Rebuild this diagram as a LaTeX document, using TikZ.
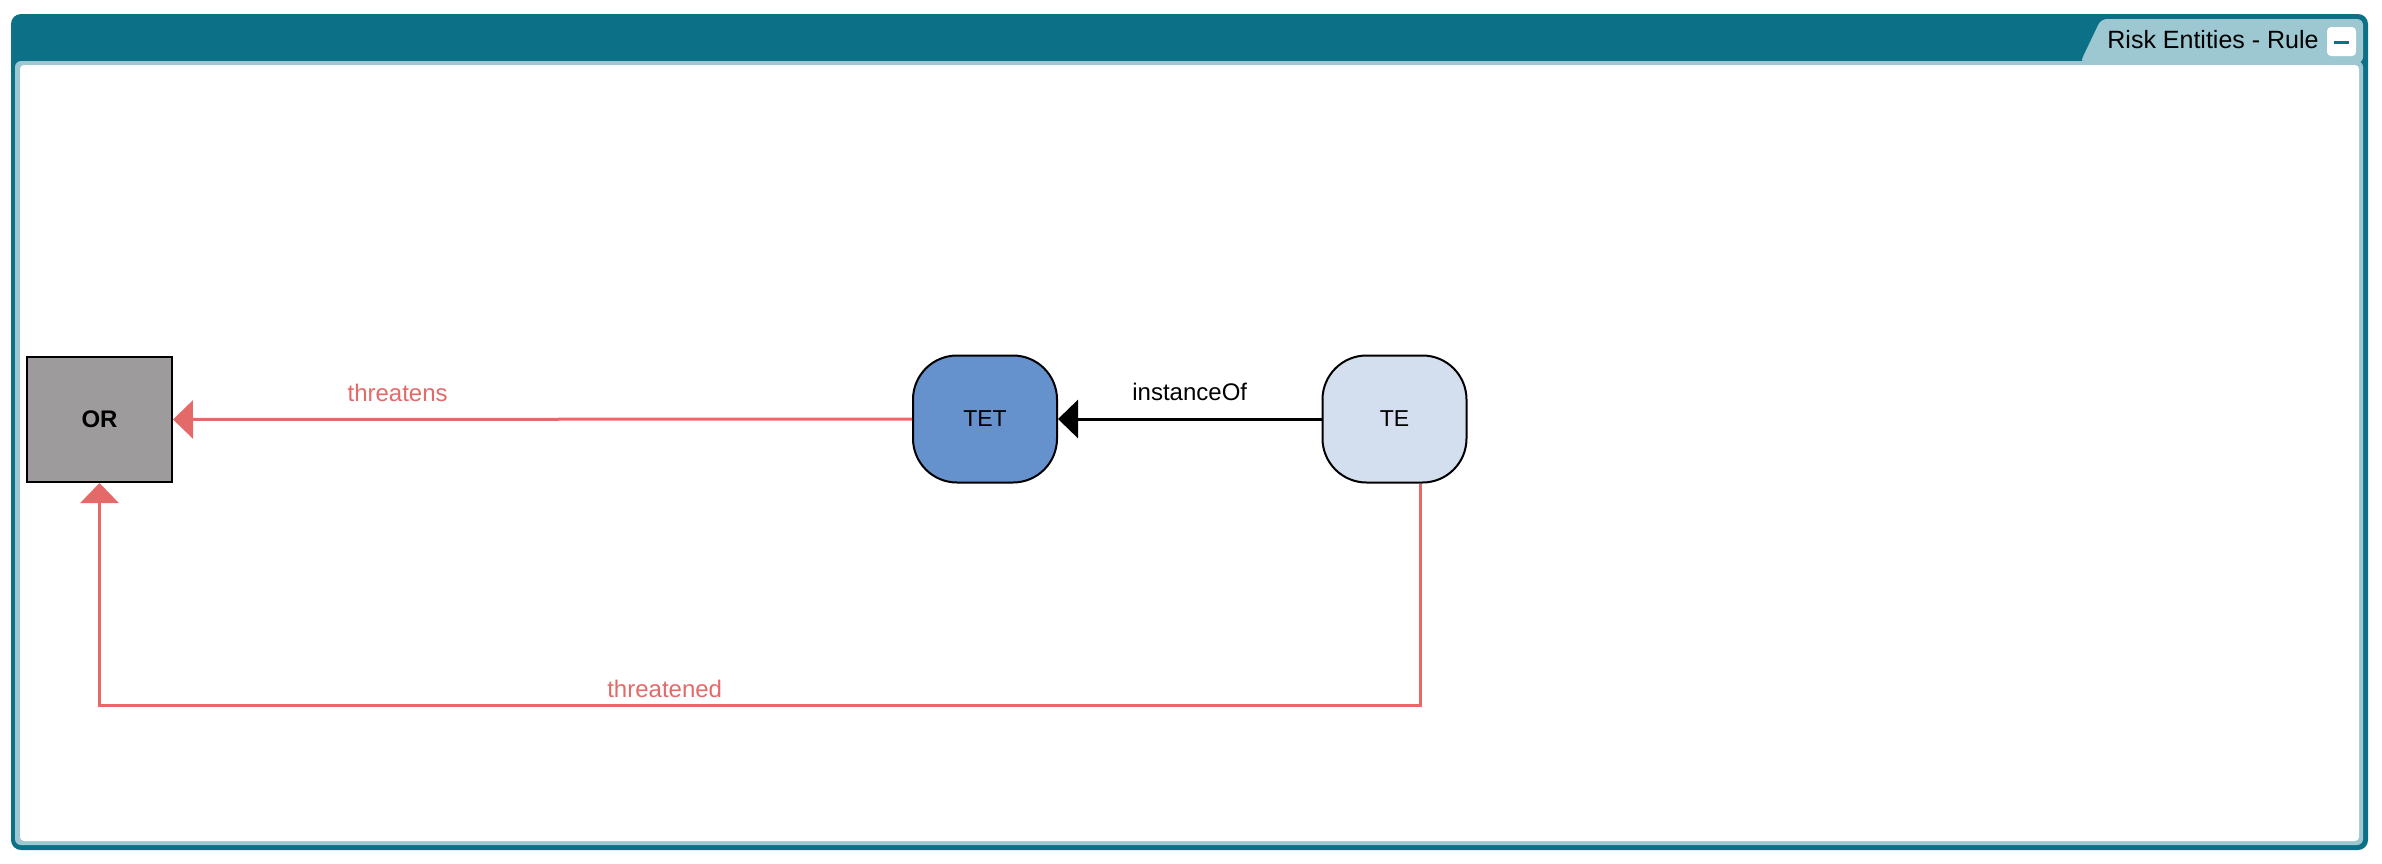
\documentclass[tikz,border=0pt]{standalone}
\usepackage{fontspec}
\setmainfont{Liberation Sans}
\usetikzlibrary{arrows.meta}
\definecolor{frameteal}{HTML}{0C7187}
\definecolor{tabteal}{HTML}{9DC7D1}
\definecolor{orgray}{HTML}{9E9B9C}
\definecolor{tetblue}{HTML}{6591CD}
\definecolor{teblue}{HTML}{D3DEEE}
\definecolor{threatred}{HTML}{E46A6A}

\begin{document}
\begin{tikzpicture}[%
	x=0.5pt, y=0.5pt,%
	entity/.style ={draw, line width=1pt, minimum width=72pt, minimum height=63.5pt, rounded corners=22pt, font=\fontsize{11.5}{14}\selectfont},%
	object/.style ={draw, line width=1pt, fill=orgray, minimum width=72.5pt, minimum height=62.5pt, font=\fontsize{12}{14}\selectfont\bfseries},%
	threat/.style ={threatred, line width=1.5pt, -{Triangle[length=10pt, width=19pt]}},%
	link/.style ={black, line width=1.5pt, -{Triangle[length=10pt, width=19pt]}},%
	edgelabel/.style ={inner sep=0pt, font=\fontsize{12}{14}\selectfont},%
	]
	\useasboundingbox (0,0) rectangle (2382,-863);
%%% frame
	\fill [frameteal, rounded corners=5pt] (11,-14) rectangle (2368,-850);
	\fill [tabteal, rounded corners=3pt] (15,-61) rectangle (2363,-845);
	\fill [tabteal, rounded corners=3pt] (2080,-63) -- (2101,-19) -- (2363,-19) -- (2363,-63) -- cycle;
	\fill [white, rounded corners=2pt] (20,-65) rectangle (2359,-841);
	\node [anchor=base west, inner sep=0pt, font=\fontsize{12.5}{15}\selectfont] (title) at (2107,-48) {Risk Entities - Rule};
	\fill [white, rounded corners=2pt] (2327,-27) rectangle (2356,-56);
	\draw [frameteal, line width=1.5pt] (2334,-42) -- (2349,-42);
%%% frame
%%% nodes
	\node [object] (or) at (99.5,-419.5) {OR};
	\node [entity, fill=tetblue] (tet) at (985,-419) {TET};
	\node [entity, fill=teblue] (te) at (1394.5,-419) {TE};
%%% nodes
%%% edges
	\draw [link] (te) -- node [edgelabel, above=8.5pt] {instanceOf} (tet);
	\draw [threat] (tet) -- node [edgelabel, pos=.696, above=8pt] {threatens} (or);
	\draw [threat] ([xshift=12.75pt]te.south) -- ++(0,-222) -| node [edgelabel, pos=.286, above=3pt] {threatened} (or.south);
%%% edges
\end{tikzpicture}
\end{document}
